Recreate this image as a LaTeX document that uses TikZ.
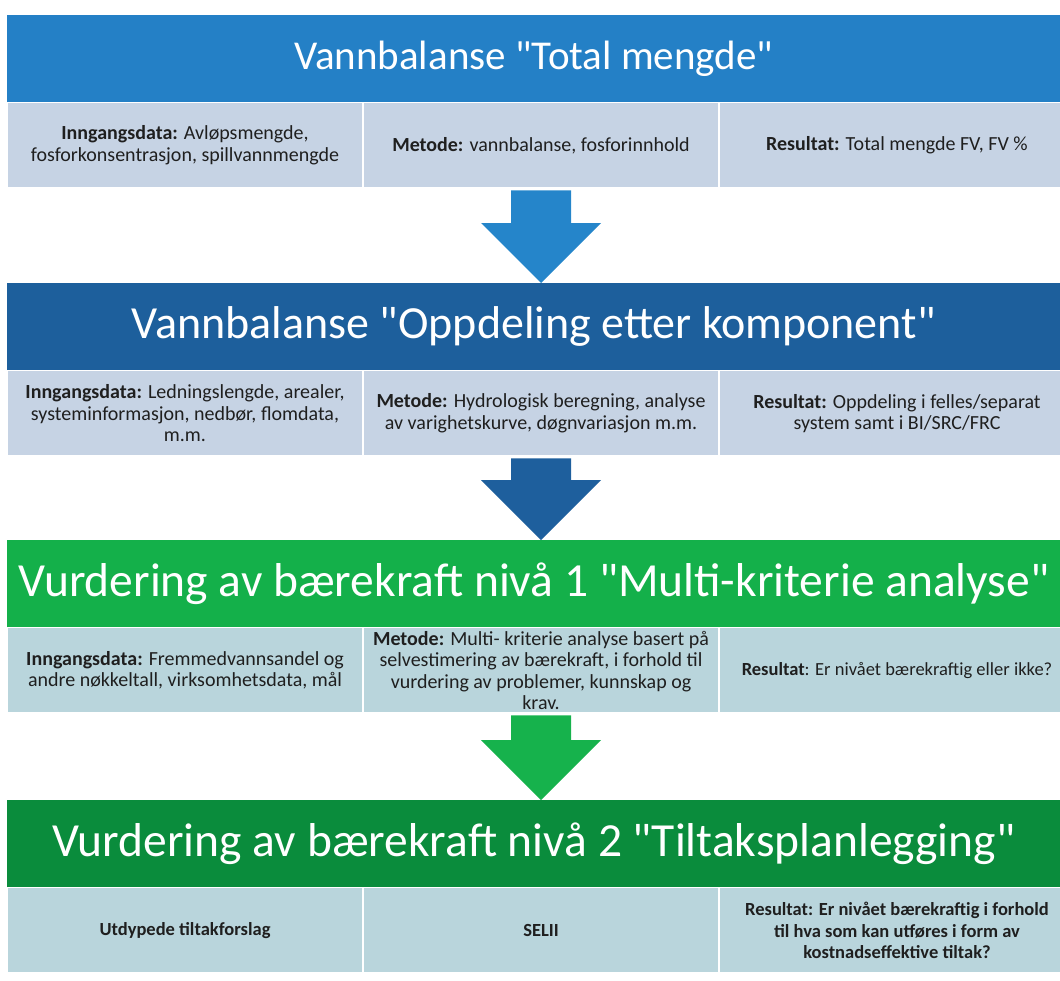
\documentclass[tikz,border=0pt]{standalone}
\usepackage{fontspec}
\setmainfont{Carlito}
\usepackage{tikz}
\usetikzlibrary{positioning}
\usetikzlibrary{calc}
\usetikzlibrary{math}

\definecolor{headA}{HTML}{2480C6}
\definecolor{headB}{HTML}{1D5F9C}
\definecolor{headC}{HTML}{14B04A}
\definecolor{headD}{HTML}{0A8C3C}
\definecolor{cellA}{HTML}{C6D3E4}
\definecolor{cellC}{HTML}{B9D5DC}
\definecolor{arrA}{HTML}{2585CA}
\definecolor{arrB}{HTML}{1E5F9D}
\definecolor{arrC}{HTML}{16B24C}

\newcommand{\qq}{\textquotedbl}

\tikzstyle{head} = [rectangle, anchor=north west, inner sep=0pt, minimum width=1053pt, minimum height=87pt, text=white, font=\fontsize{46}{52}\selectfont]
\tikzstyle{cell} = [rectangle, anchor=north west, inner sep=0pt, minimum width=355pt, minimum height=85pt, draw=white, line width=1pt, align=center, text=black!88, font=\fontsize{20}{21.5}\selectfont]
\tikzstyle{lastcell} = [cell, font=\fontsize{18.5}{21.5}\selectfont\bfseries]

\begin{document}
\begin{tikzpicture}[x=1pt, y=1pt, node distance=0pt]

  \tikzmath{\ya = 15; \yb = 283; \yc = 540; \yd = 800;}

  \useasboundingbox (0,0) rectangle (1060,-980);

  % level 1
  \node[head, fill=headA, font=\fontsize{41}{46}\selectfont] (h1) at (7,-\ya) {Vannbalanse \qq Total mengde\qq};
  \node[cell, fill=cellA] (in1) at (h1.south west) {\textbf{Inngangsdata:} Avløpsmengde,\\ fosforkonsentrasjon, spillvannmengde};
  \node[cell, fill=cellA, right=of in1] (me1) {\textbf{Metode:} vannbalanse, fosforinnhold};
  \node[cell, fill=cellA, right=of me1] (re1) {\textbf{Resultat:} Total mengde FV, FV \%};

  % level 2
  \node[head, fill=headB] (h2) at (7,-\yb) {Vannbalanse \qq Oppdeling etter komponent\qq};
  \node[cell, fill=cellA] (in2) at (h2.south west) {\textbf{Inngangsdata:} Ledningslengde, arealer,\\ systeminformasjon, nedbør, flomdata,\\ m.m.};
  \node[cell, fill=cellA, right=of in2] (me2) {\textbf{Metode:} Hydrologisk beregning, analyse\\ av varighetskurve, døgnvariasjon m.m.};
  \node[cell, fill=cellA, right=of me2] (re2) {\textbf{Resultat:} Oppdeling i felles/separat\\ system samt i BI/SRC/FRC};

  % level 3
  \node[head, fill=headC, font=\fontsize{47.5}{52}\selectfont] (h3) at (7,-\yc) {Vurdering av bærekraft nivå 1 \qq Multi-kriterie analyse\qq};
  \node[cell, fill=cellC] (in3) at (h3.south west) {\textbf{Inngangsdata:} Fremmedvannsandel og\\ andre nøkkeltall, virksomhetsdata, mål};
  \node[cell, fill=cellC, right=of in3] (me3) {\textbf{Metode:} Multi- kriterie analyse basert på\\ selvestimering av bærekraft, i forhold til\\ vurdering av problemer, kunnskap og\\ krav.};
  \node[cell, fill=cellC, right=of me3, font=\fontsize{18.5}{21.5}\selectfont] (re3) {\textbf{Resultat}: Er nivået bærekraftig eller ikke?};

  % level 4
  \node[head, fill=headD, font=\fontsize{47.5}{52}\selectfont] (h4) at (7,-\yd) {Vurdering av bærekraft nivå 2 \qq Tiltaksplanlegging\qq};
  \node[lastcell, fill=cellC] (in4) at (h4.south west) {Utdypede tiltakforslag};
  \node[lastcell, fill=cellC, right=of in4] (me4) {SELII};
  \node[lastcell, fill=cellC, right=of me4] (re4) {Resultat: Er nivået bærekraftig i forhold\\ til hva som kan utføres i form av\\ kostnadseffektive tiltak?};

  % block arrows
  \foreach \from/\to/\col in {me1/h2/arrA, me2/h3/arrB, me3/h4/arrC} {
    \coordinate (tip) at (\from.south |- \to.north);
    \fill[\col] ($(\from.south)+(-30,-2)$) -- ($(\from.south)+(30,-2)$) -- ($(tip)+(30,60)$) -- ($(tip)+(60,60)$) -- (tip) -- ($(tip)+(-60,60)$) -- ($(tip)+(-30,60)$) -- cycle;
  }

\end{tikzpicture}
\end{document}
